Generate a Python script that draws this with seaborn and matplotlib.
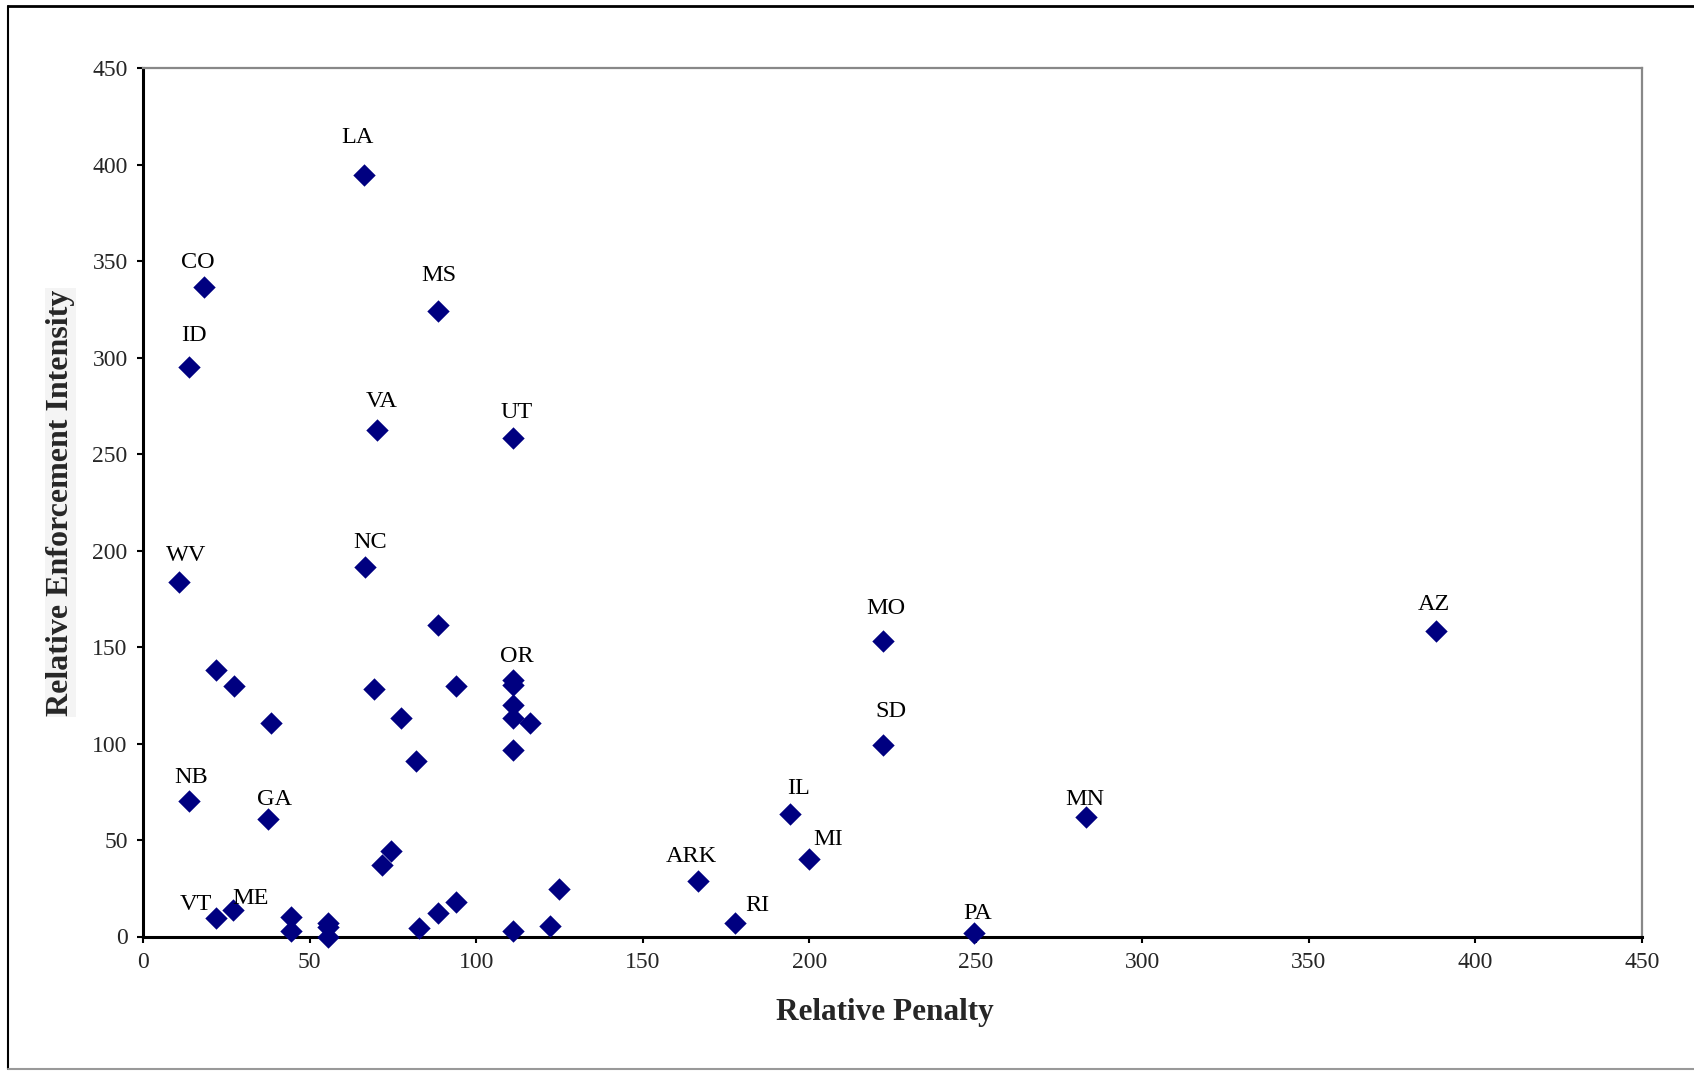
import pandas as pd
import numpy as np
import matplotlib
matplotlib.use("Agg")
import matplotlib.pyplot as plt
from matplotlib.lines import Line2D
import seaborn as sns

# Dados: penalidade relativa x intensidade relativa de fiscalizacao
estados = ['LA', 'CO', 'ID', 'MS', 'VA', 'UT', 'NC', 'WV', 'MO', 'AZ', 'OR',
           'SD', 'NB', 'GA', 'IL', 'MN', 'MI', 'ARK', 'RI', 'PA', 'VT', 'ME',
           '', '', '', '', '', '', '', '', '', '', '', '', '', '', '', '', '',
           '', '', '', '', '', '', '', '', '']
penalidade = [66.4, 18.2, 13.8, 88.7, 70.2, 111.0, 66.5, 10.8, 222.2, 388.3, 111.0,
              222.2, 13.8, 37.5, 194.1, 283.0, 200.0, 166.7, 177.7, 249.6, 22.0, 27.1,
              88.7, 111.0, 93.9, 111.0, 111.0, 116.2, 111.0, 21.9, 27.3, 69.4, 38.3,
              77.6, 82.1, 74.5, 71.7, 44.3, 44.3, 55.4, 55.4, 55.4, 82.9, 88.7,
              93.9, 111.0, 122.1, 125.0]
intensidade = [394.7, 336.8, 295.4, 324.4, 262.6, 258.3, 191.7, 183.6, 153.2, 158.5, 132.7,
               99.3, 70.4, 60.7, 63.3, 61.8, 40.0, 28.8, 6.8, 1.7, 9.8, 13.7,
               161.5, 130.2, 129.8, 120.0, 113.1, 110.5, 96.7, 138.1, 129.8, 128.3, 110.5,
               113.1, 91.0, 44.3, 37.1, 10.3, 2.9, 7.0, 5.0, 0.0, 4.2, 12.3,
               18.0, 2.9, 5.6, 24.6]

df = pd.DataFrame({'estado': estados, 'penalidade': penalidade,
                   'intensidade': intensidade})

# deslocamento dos rotulos em pixels (dx, dy para cima)
desloc = {'LA': (-7, 37), 'CO': (-6, 24), 'ID': (5, 31), 'MS': (0, 35),
          'VA': (5, 28), 'UT': (4, 26), 'NC': (6, 24), 'WV': (7, 27),
          'MO': (3, 32), 'AZ': (-3, 26), 'OR': (4, 24), 'SD': (8, 33),
          'NB': (2, 23), 'GA': (7, 20), 'IL': (9, 26), 'MN': (-1, 18),
          'MI': (19, 20), 'ARK': (-7, 24), 'RI': (22, 18), 'PA': (3, 20),
          'VT': (-20, 13), 'ME': (17, 12)}

sns.set_style("white")
plt.rcParams['font.family'] = ['Liberation Serif', 'DejaVu Serif']

fig = plt.figure(figsize=(16.94, 10.71), dpi=100)
ax = fig.add_axes([143 / 1694, 1 - 936.5 / 1071, 1499 / 1694, 868.2 / 1071])

sns.scatterplot(x='penalidade', y='intensidade', data=df, ax=ax, marker='D',
                s=130, color='#000080', linewidth=0, clip_on=False, zorder=3)

for _, row in df[df['estado'] != ''].iterrows():
    dx, dy = desloc[row['estado']]
    ax.annotate(row['estado'], (row['penalidade'], row['intensidade']),
                xytext=(dx, dy), textcoords='offset pixels',
                ha='center', va='center', fontsize=17.5, color='black')

ax.set_xlim(0, 450)
ax.set_ylim(0, 450)
ax.set_xticks(np.arange(0, 451, 50))
ax.set_yticks(np.arange(0, 451, 50))
ax.tick_params(axis='both', direction='out', length=4, width=1.5,
               labelsize=17, pad=7, color='black', bottom=True, left=True)

for lado in ['left', 'bottom']:
    ax.spines[lado].set_color('black')
    ax.spines[lado].set_linewidth(2.2)
for lado in ['top', 'right']:
    ax.spines[lado].set_color('#888888')
    ax.spines[lado].set_linewidth(1.6)

ax.set_xlabel('Relative Penalty', fontsize=22.5, fontweight='bold', va='center')
ax.set_ylabel('Relative Enforcement Intensity', fontsize=23, fontweight='bold',
              va='center', bbox=dict(facecolor='#f4f4f4', edgecolor='none', pad=1))
ax.xaxis.set_label_coords(0.495, -0.087)
ax.yaxis.set_label_coords(-0.055, 0.5)
ax.grid(False)

# moldura externa do grafico
fig.add_artist(Line2D([8 / 1694, 8 / 1694], [1 - 1069 / 1071, 1 - 6 / 1071],
                      transform=fig.transFigure, color='black', lw=1.5))
fig.add_artist(Line2D([8 / 1694, 1], [1 - 6 / 1071, 1 - 6 / 1071],
                      transform=fig.transFigure, color='black', lw=2))
fig.add_artist(Line2D([8 / 1694, 1], [1 - 1069 / 1071, 1 - 1069 / 1071],
                      transform=fig.transFigure, color='#999999', lw=1.5))

fig.savefig('out.png', dpi=100)
